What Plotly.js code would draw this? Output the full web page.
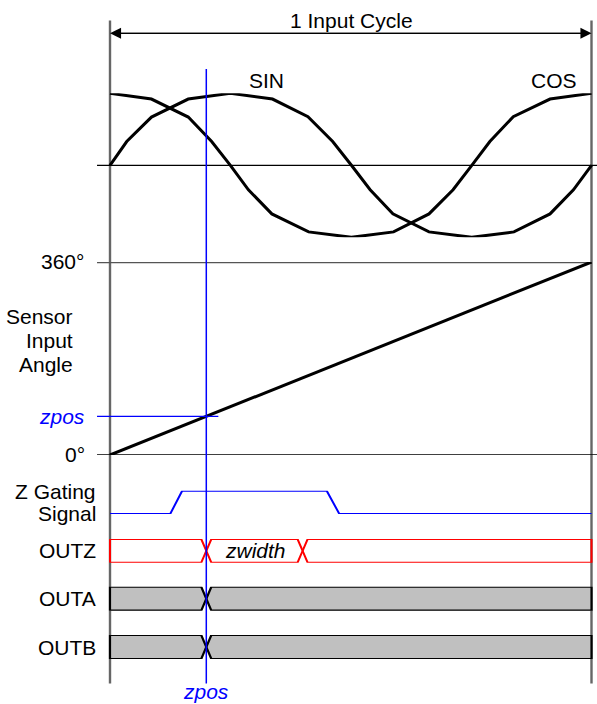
<!DOCTYPE html>
<html>
<head>
<meta charset="utf-8">
<script src="https://cdn.plot.ly/plotly-3.0.1.min.js"></script>
<style>html,body{margin:0;padding:0;background:#fff;}</style>
</head>
<body>
<div id="chart" style="width:597px;height:704px;"></div>
<script>
// ---- data (angles in degrees over one input cycle) ----
const sinDeg = [0, 12.5, 31, 58.5, 90, 121.5, 148, 166.5, 180.5, 194.5, 211.5, 238.5, 270.5, 302, 329, 346.5, 360];
const sinVal = [0, 0.33, 0.67, 0.92, 1, 0.92, 0.675, 0.33, 0, -0.34, -0.675, -0.925, -1, -0.925, -0.675, -0.34, 0];
const cosDeg = [0, 31, 58.5, 76, 90, 103.5, 121, 148.5, 180.5, 212, 238.5, 256.5, 270.5, 284, 301.5, 329, 360];
const cosVal = [1, 0.92, 0.67, 0.33, 0, -0.34, -0.675, -0.925, -1, -0.925, -0.675, -0.34, 0, 0.33, 0.675, 0.92, 1];
const angleDeg = [0, 360];
const angleVal = [0, 360];
const gateDeg = [0, 45, 54, 162, 171.5, 360];
const gateVal = [0, 0, 1, 1, 0, 0];
const zpos = 72;
const zwidth = 72;
const cycleDeg = 360;
const outzEdges = [0, zpos, zpos + zwidth, cycleDeg];
const outaEdges = [0, zpos, cycleDeg];
const outbEdges = [0, zpos, cycleDeg];
const rowLabels = ["OUTZ", "OUTA", "OUTB"];

// ---- bus (timing) outline builder ----
const H = 3.8; // transition half width in degrees
function bus(edges) {
  const xs = [], ys = [];
  for (let i = 0; i < edges.length - 1; i++) {
    const a = edges[i], b = edges[i + 1];
    const start = i === 0, end = i === edges.length - 2;
    const p = [];
    if (start) p.push([a, 0], [a, 1]); else p.push([a, 0.5], [a + H, 1]);
    if (end) p.push([b, 1], [b, 0]); else p.push([b - H, 1], [b, 0.5], [b - H, 0]);
    if (start) p.push([a, 0]); else p.push([a + H, 0], [a, 0.5]);
    p.forEach(q => { xs.push(q[0]); ys.push(q[1]); });
    xs.push(null); ys.push(null);
  }
  return {x: xs, y: ys};
}

// ---- geometry helpers (pixel -> paper) ----
const W = 597, HT = 704;
const pv = py => 1 - py / HT;
const dom = (bot, top) => [pv(bot), pv(top)];

const FONT = "Arial, 'Liberation Sans', sans-serif";
const FS = 21;

const bz = bus(outzEdges), ba = bus(outaEdges), bb = bus(outbEdges);

const traces = [
  {x: sinDeg, y: sinVal, yaxis: 'y', mode: 'lines', line: {color: '#000', width: 3}},
  {x: cosDeg, y: cosVal, yaxis: 'y', mode: 'lines', line: {color: '#000', width: 3}},
  {x: angleDeg, y: angleVal, yaxis: 'y2', mode: 'lines', line: {color: '#000', width: 3}},
  {x: gateDeg, y: gateVal, yaxis: 'y3', mode: 'lines', line: {color: '#0000ff', width: 2}},
  {x: bz.x, y: bz.y, yaxis: 'y4', mode: 'lines', line: {color: '#ff0000', width: 2}},
  {x: ba.x, y: ba.y, yaxis: 'y5', mode: 'lines', fill: 'toself', fillcolor: '#c0c0c0', line: {color: '#000', width: 2.2}},
  {x: bb.x, y: bb.y, yaxis: 'y6', mode: 'lines', fill: 'toself', fillcolor: '#c0c0c0', line: {color: '#000', width: 2.2}}
];

const xLeft = -9.7, xFar = 364.5;
const shapes = [
  // baselines
  {type: 'line', xref: 'x', yref: 'y', x0: xLeft, x1: xFar, y0: 0, y1: 0, line: {color: '#000', width: 1.3}, layer: 'below'},
  {type: 'line', xref: 'x', yref: 'y2', x0: xLeft, x1: cycleDeg, y0: 360, y1: 360, line: {color: '#555', width: 2.4}, layer: 'below'},
  {type: 'line', xref: 'x', yref: 'y2', x0: xLeft, x1: xFar, y0: 0, y1: 0, line: {color: '#000', width: 1.6}, layer: 'below'},
  {type: 'line', xref: 'x', yref: 'y2', x0: xLeft, x1: 81, y0: zpos, y1: zpos, line: {color: '#0000ff', width: 1.4}},
  // cycle boundaries
  {type: 'line', xref: 'x', yref: 'paper', x0: 0, x1: 0, y0: pv(683.5), y1: pv(20.5), line: {color: '#666', width: 2.4}, layer: 'below'},
  {type: 'line', xref: 'x', yref: 'paper', x0: cycleDeg, x1: cycleDeg, y0: pv(683.5), y1: pv(20.5), line: {color: '#666', width: 2.4}, layer: 'below'},
  // zpos marker
  {type: 'line', xref: 'x', yref: 'paper', x0: zpos, x1: zpos, y0: pv(683.5), y1: pv(69), line: {color: '#0000ff', width: 1.5}}
];

const ann = (text, x, xref, y, yref, extra) => Object.assign({
  text: text, x: x, xref: xref, y: y, yref: yref, showarrow: false,
  xanchor: 'center', yanchor: 'middle',
  font: {family: FONT, size: FS, color: '#000'}
}, extra || {});

const blueItalic = {family: FONT, size: FS, color: '#0000ff', style: 'italic'};

const annotations = [
  // cycle arrow (two overlapping arrows, one head at each end)
  {x: 0, y: pv(33.3), xref: 'x', yref: 'paper', ax: cycleDeg - 2, ay: 0, axref: 'x', ayref: 'pixel', text: '', showarrow: true,
   arrowhead: 2, arrowsize: 1.7, arrowwidth: 1.3, arrowcolor: '#000', standoff: 0, startstandoff: 0},
  {x: cycleDeg, y: pv(33.3), xref: 'x', yref: 'paper', ax: 2, ay: 0, axref: 'x', ayref: 'pixel', text: '', showarrow: true,
   arrowhead: 2, arrowsize: 1.7, arrowwidth: 1.3, arrowcolor: '#000', standoff: 0, startstandoff: 0},
  ann('1 Input Cycle', 180.5, 'x', pv(21), 'paper'),
  ann('SIN', 117, 'x', pv(80.5), 'paper'),
  ann('COS', 332, 'x', pv(80), 'paper'),
  ann('360°', -17.6, 'x', 360, 'y2', {xanchor: 'right'}),
  ann('Sensor', -26.5, 'x', pv(316.5), 'paper', {xanchor: 'right'}),
  ann('Input', -26.5, 'x', pv(340), 'paper', {xanchor: 'right'}),
  ann('Angle', -26.5, 'x', pv(364), 'paper', {xanchor: 'right'}),
  ann('zpos', -17, 'x', zpos, 'y2', {xanchor: 'right', font: blueItalic}),
  ann('0°', -17, 'x', 0, 'y2', {xanchor: 'right'}),
  ann('Z Gating', -9, 'x', pv(491.5), 'paper', {xanchor: 'right'}),
  ann('Signal', -9, 'x', pv(513.5), 'paper', {xanchor: 'right'}),
  ann(rowLabels[0], -9, 'x', 0.5, 'y4', {xanchor: 'right'}),
  ann(rowLabels[1], -9, 'x', 0.5, 'y5', {xanchor: 'right'}),
  ann(rowLabels[2], -9, 'x', 0.5, 'y6', {xanchor: 'right'}),
  ann('zwidth', zpos + zwidth / 2 + 0.5, 'x', 0.5, 'y4', {font: {family: FONT, size: FS, color: '#000', style: 'italic'}}),
  ann('zpos', zpos, 'x', pv(691), 'paper', {font: blueItalic})
];

const hidden = {visible: false, fixedrange: true};
const layout = {
  width: W, height: HT,
  margin: {l: 0, r: 0, t: 0, b: 0, pad: 0},
  paper_bgcolor: '#fff', plot_bgcolor: '#fff',
  showlegend: false, hovermode: false,
  xaxis: Object.assign({range: [-110 / 1.3375, (W - 110) / 1.3375]}, hidden),
  yaxis: Object.assign({range: [-1, 1], domain: dom(237.3, 93.3), anchor: 'x'}, hidden),
  yaxis2: Object.assign({range: [0, 360], domain: dom(455, 262), anchor: 'x'}, hidden),
  yaxis3: Object.assign({range: [0, 1], domain: dom(514, 490.7), anchor: 'x'}, hidden),
  yaxis4: Object.assign({range: [0, 1], domain: dom(562.7, 539), anchor: 'x'}, hidden),
  yaxis5: Object.assign({range: [0, 1], domain: dom(610.7, 586.7), anchor: 'x'}, hidden),
  yaxis6: Object.assign({range: [0, 1], domain: dom(659, 635), anchor: 'x'}, hidden),
  shapes: shapes,
  annotations: annotations
};

Plotly.newPlot('chart', traces, layout, {staticPlot: true, displayModeBar: false});
</script>
</body>
</html>
